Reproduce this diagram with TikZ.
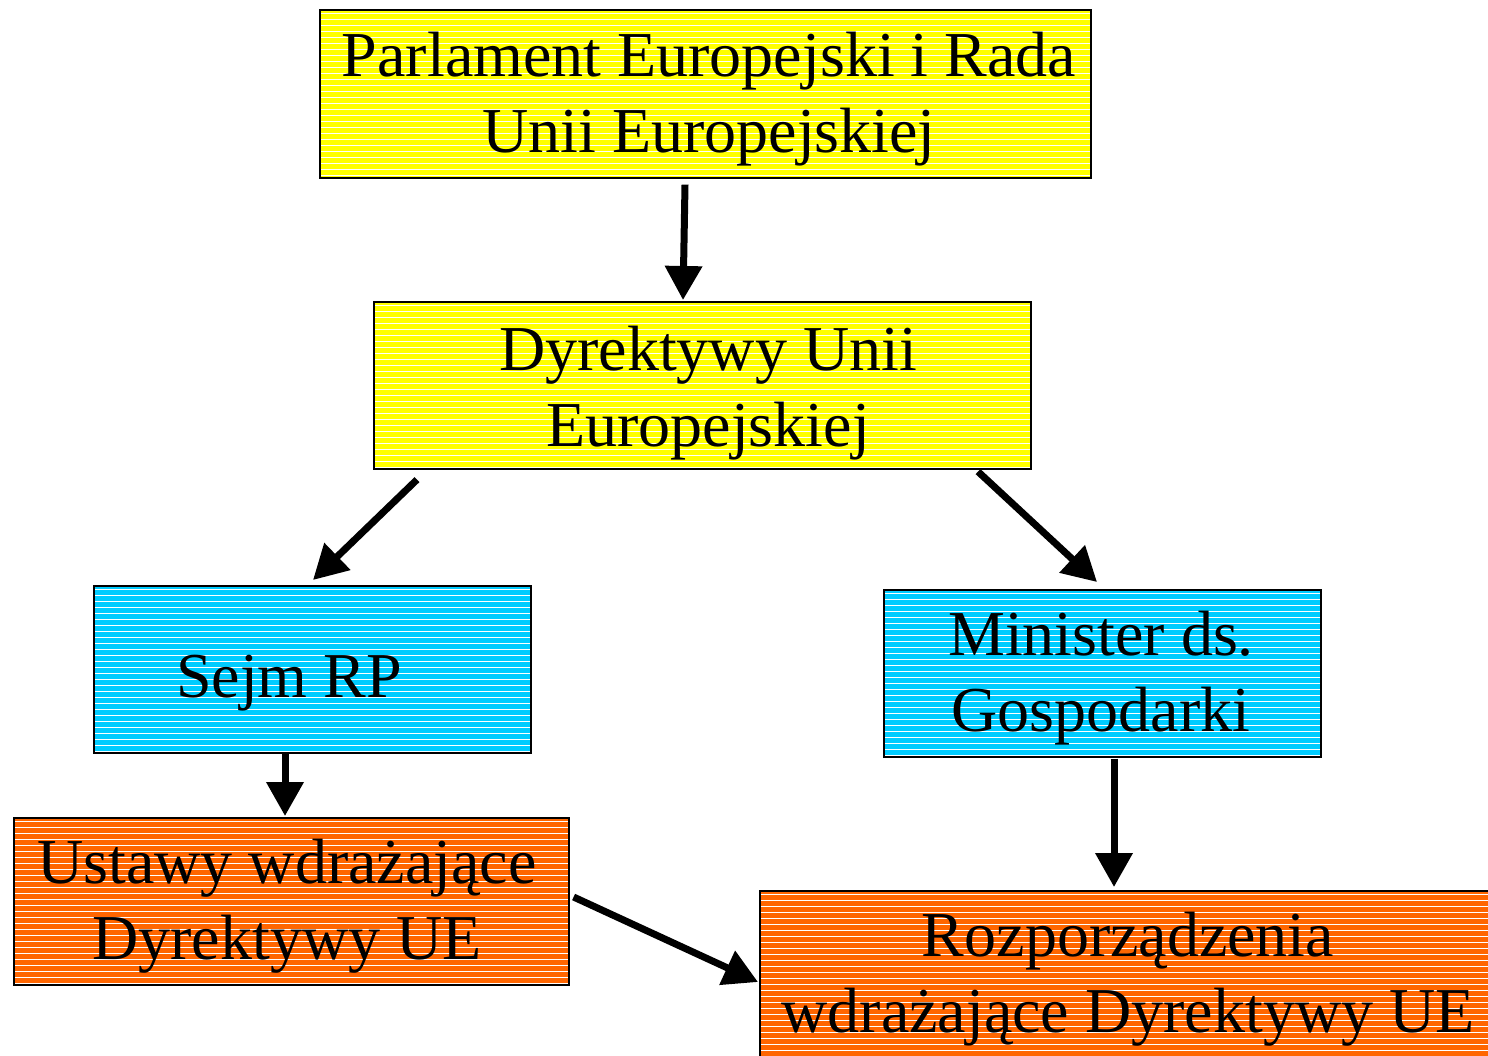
\documentclass[tikz,border=0pt]{standalone}
\usepackage{fontspec}
\setmainfont{Liberation Serif}
\usetikzlibrary{arrows.meta,calc}
\definecolor{cyell}{HTML}{FFFF00}
\definecolor{ccyan}{HTML}{00CCFF}
\definecolor{corange}{HTML}{FF6600}
\tikzset{
  box/.style={draw=black, line width=1.6pt, fill=#1, inner sep=0pt, anchor=north west,
    path picture={\foreach \k in {1,...,34}{\draw[white,line width=1.2pt]
      ([yshift=-\k*6pt+2pt]path picture bounding box.north west) --
      ([yshift=-\k*6pt+2pt]path picture bounding box.north east);}}},
  txt/.style={font=\fontsize{64}{76}\selectfont, align=center, anchor=base, inner sep=0pt},
  arr/.style={line width=7pt, -{Triangle[length=34pt,width=36pt]}}
}
\begin{document}
\begin{tikzpicture}[x=1pt,y=-1pt]
\useasboundingbox (0,0) rectangle (1488,1056);
\clip (0,0) rectangle (1488,1056);
\fill[white] (0,0) rectangle (1488,1056);
% boxes
\node[box=cyell, minimum width=771pt, minimum height=168pt] (top) at (319,9) {};
\node[box=cyell, minimum width=657pt, minimum height=167pt] (dyr) at (373,301) {};
\node[box=ccyan, minimum width=437pt, minimum height=167pt] (sejm) at (93,585) {};
\node[box=ccyan, minimum width=437pt, minimum height=167pt] (min) at (883,589) {};
\node[box=corange, minimum width=555pt, minimum height=167pt] (ust) at (13,817) {};
\node[box=corange, minimum width=770pt, minimum height=190pt] (roz) at (759,890) {};
% texts (anchor base = baseline of last line)
\node[txt] (ttop) at (709,153) {Parlament Europejski i Rada\\Unii Europejskiej};
\node[txt] (tdyr) at (708,446) {Dyrektywy Unii\\Europejskiej};
\node[txt] (tsejm) at (289,697) {Sejm RP};
\node[txt] (tmin) at (1101,731) {Minister ds.\\Gospodarki};
\node[txt] (tust) at (287,959) {Ustawy wdrażające\\Dyrektywy UE};
\node[txt] (troz) at (1128,1032) {Rozporządzenia\\wdrażające Dyrektywy UE};
% arrows
\draw[arr] ($(top.south west)+(366,6)$) -- ($(dyr.north west)+(310,-1)$);
\draw[arr] ($(dyr.south west)+(44,10)$) -- ($(sejm.north west)+(220,-5)$);
\draw[arr] ($(dyr.south west)+(605,2)$) -- ($(min.north west)+(214,-7)$);
\draw[arr] ($(sejm.south west)+(192,0)$) -- ($(ust.north west)+(272,-1)$);
\draw[arr] ($(min.south west)+(231,1)$) -- ($(roz.north west)+(355,-3)$);
\draw[arr] ($(ust.north east)+(4,80)$) -- ($(roz.north west)+(-1,92)$);
\end{tikzpicture}
\end{document}
